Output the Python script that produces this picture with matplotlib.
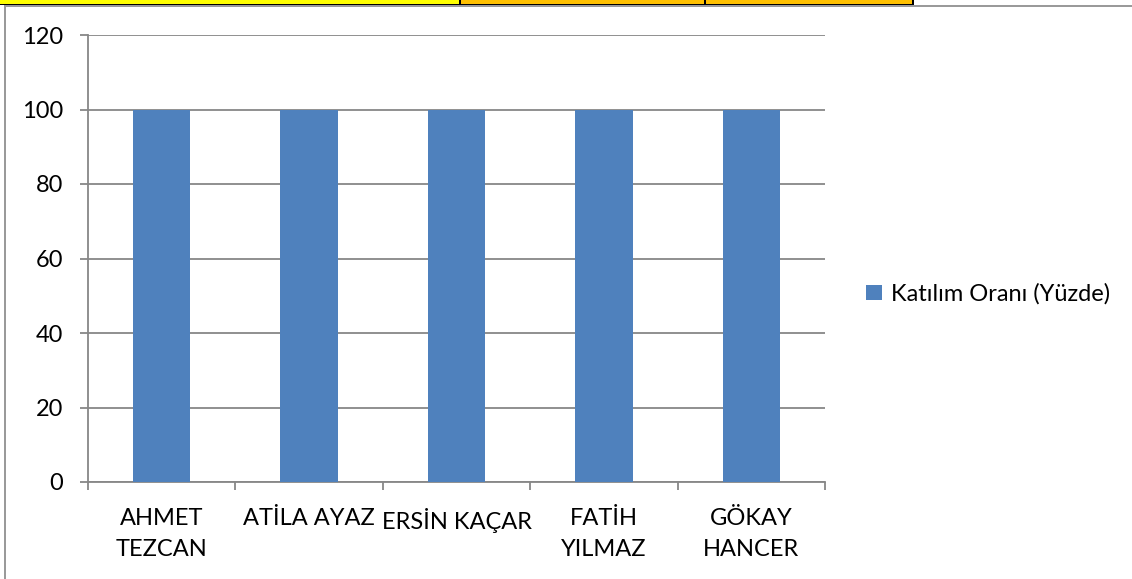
import matplotlib
matplotlib.use("Agg")
import matplotlib.pyplot as plt
from matplotlib.patches import Rectangle
import numpy as np

categories = ["AHMET\nTEZCAN", "ATİLA AYAZ", "ERSİN KAÇAR", "FATİH\nYILMAZ", "GÖKAY\nHANCER"]
values = [100, 100, 100, 100, 100]
series_name = "Katılım Oranı (Yüzde)"
yticks = [0, 20, 40, 60, 80, 100, 120]

plt.rcParams['font.family'] = ['Lato', 'DejaVu Sans']

W, H = 1132, 579
fig = plt.figure(figsize=(W / 100, H / 100), dpi=100)


def fx(x):
    return x / W


def fy(y):
    return 1 - y / H


def rect(x0, y0, x1, y1, color):
    fig.add_artist(Rectangle((fx(x0), fy(y1)), fx(x1) - fx(x0), fy(y0) - fy(y1),
                             transform=fig.transFigure, facecolor=color,
                             edgecolor='none', zorder=5))


# spreadsheet header strip
rect(0, 0, 459, 4, '#FFFF00')
rect(461, 0, 704, 4, '#FFC000')
rect(706, 0, 912, 4, '#FFC000')
rect(459, 0, 461, 5, '#000000')
rect(704, 0, 706, 5, '#000000')
rect(912, 0, 914, 5, '#000000')
rect(0, 4, 914, 5, '#000000')
# chart area border
rect(4, 5, W, 7, '#9A9A9A')
rect(4, 5, 6, H, '#9A9A9A')

fs = 17
grid_color = '#878787'
ax = fig.add_axes([fx(88), fy(482), fx(825) - fx(88), fy(35) - fy(482)])
x = np.arange(len(categories))
ax.bar(x, values, width=0.39, color='#4F81BD', zorder=3, label=series_name)
ax.set_xlim(-0.5, len(categories) - 0.5)
ax.set_ylim(0, 120)
ax.set_yticks(yticks)
ax.set_yticklabels([str(v) for v in yticks])
ax.yaxis.grid(True, color=grid_color, linewidth=1.3, zorder=0)
ax.set_axisbelow(True)
for s in ['top', 'right']:
    ax.spines[s].set_visible(False)
for s in ['left', 'bottom']:
    ax.spines[s].set_color(grid_color)
    ax.spines[s].set_linewidth(1.3)

ax.set_xticks(x)
ax.set_xticklabels(categories, linespacing=1.55)
ax.set_xticks(np.arange(len(categories) + 1) - 0.5, minor=True)
ax.tick_params(axis='x', which='major', length=0, pad=19, labelsize=fs)
ax.tick_params(axis='x', which='minor', length=6, width=1.3, color=grid_color, direction='out')
ax.tick_params(axis='y', length=6, width=1.3, color=grid_color, pad=12, labelsize=fs)

leg = fig.legend(loc='center left', bbox_to_anchor=(fx(845), fy(294)), frameon=False,
                 fontsize=fs, handlelength=0.65, handleheight=0.65, handletextpad=0.4)

fig.savefig('out.png', dpi=100)
